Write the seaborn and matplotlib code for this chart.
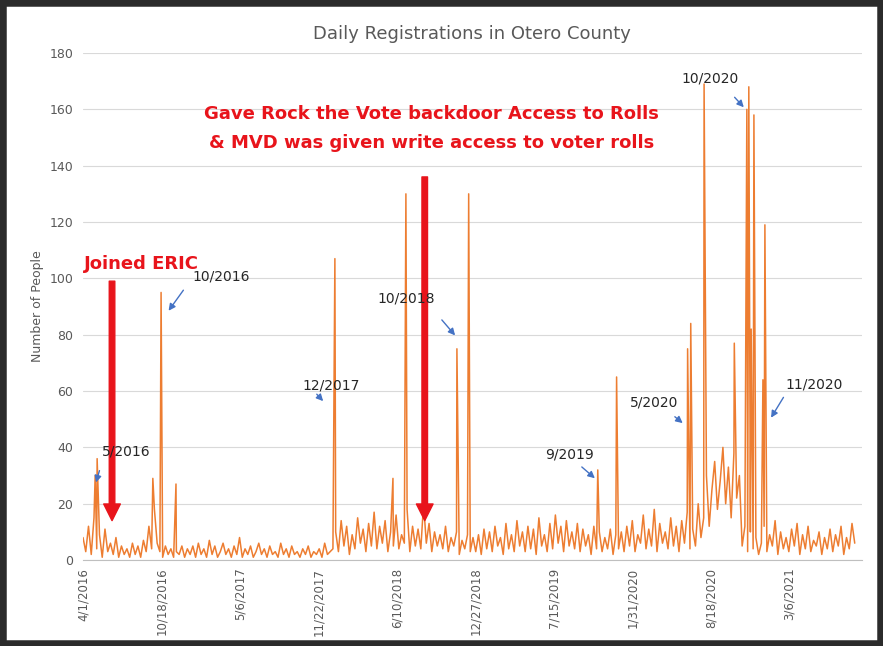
import pandas as pd
import numpy as np
import matplotlib
matplotlib.use("Agg")
import matplotlib.pyplot as plt
import seaborn as sns

# weekly readings of the noisy base level (start 2016-04-01, 7 day steps)
base_2016 = [8,3,12,2,15,4,9,1,11,3,6,2,8,1,5,2,4,1,6,2,5,1,7,3,12,4,18,6,3,1,5,2,4,1,3,2,5,1,4]
base_2017 = [2,5,1,6,2,4,1,7,2,5,1,3,6,2,4,1,5,2,8,1,4,2,5,1,3,6,2,4,1,5,2,3,1,6,2,4,1,5,2,3,1,4,2,5,1,3,2,4,1,6,2,3]
base_2018 = [4,10,3,14,5,12,2,9,4,15,6,11,3,13,5,17,4,12,6,14,3,10,5,16,4,9,6,18,3,12,5,11,4,20,6,13,3,10,5,9,4,12,3,8,5,10,2,7,4,9,3,8]
base_2019 = [3,9,2,11,4,10,3,12,5,8,2,13,4,9,3,14,5,10,3,12,4,11,2,15,5,9,3,13,4,16,6,12,3,14,5,10,4,13,3,11,5,9,2,12,4,10,3,8,4,11,2,9]
base_2020 = [4,10,3,12,5,14,3,9,6,16,4,11,5,18,3,13,6,10,4,15,5,12,3,14,6,17,4,11,5,20,8,
             15,30,12,25,35,18,28,40,20,33,15,38,22,30,
             5,12,3,10,4,8,2]
base_2021 = [6,12,3,9,5,14,2,10,4,8,3,11,5,13,2,9,4,12,3,7,5,10,2,8,4,11,3,9,5,12,2,8,4,13,6]

# single-day spikes (day offset from 4/1/2016, people)
spike_days = [31, 36, 178, 199, 237, 642, 790, 823, 953, 983, 1312, 1360,
              1541, 1549, 1583, 1660, 1692, 1697, 1703, 1710, 1733, 1738]
spike_vals = [30, 36, 29, 95, 27, 107, 29, 130, 75, 130, 32, 65,
              75, 84, 169, 77, 160, 168, 82, 158, 64, 119]

start = pd.Timestamp("2016-04-01")
base = base_2016 + base_2017 + base_2018 + base_2019 + base_2020 + base_2021
df = pd.concat([
    pd.DataFrame({"date": start + pd.to_timedelta(np.arange(len(base)) * 7, unit="D"), "people": base}),
    pd.DataFrame({"date": start + pd.to_timedelta(spike_days, unit="D"), "people": spike_vals}),
]).sort_values("date").drop_duplicates("date", keep="last")

sns.set_style("white")
fig = plt.figure(figsize=(8.83, 6.46), dpi=100)
fig.patches.append(plt.Rectangle((0, 0), 1, 1, transform=fig.transFigure, fill=False,
                                 edgecolor="#2b2b2b", linewidth=9))
ax = fig.add_axes([0.094, 0.133, 0.882, 0.785])
sns.lineplot(data=df, x="date", y="people", ax=ax, color="#ED7D31", linewidth=1.1,
             estimator=None, sort=True)

ticks = [start + pd.Timedelta(days=200 * i) for i in range(10)]
ax.set_xticks(ticks)
ax.set_xticklabels([f"{t.month}/{t.day}/{t.year}" for t in ticks], rotation=90, fontsize=8.5, color="#595959")
ax.set_xlim(start, start + pd.Timedelta(days=1985))
ax.set_ylim(0, 180)
ax.set_yticks(range(0, 181, 20))
ax.tick_params(axis="y", labelsize=9, colors="#595959")
ax.tick_params(axis="x", pad=2)
ax.grid(axis="y", color="#d9d9d9", linewidth=0.8)
for s in ["top", "right", "left"]:
    ax.spines[s].set_visible(False)
ax.spines["bottom"].set_color("#bfbfbf")
ax.set_xlabel("")
ax.set_ylabel("Number of People", fontsize=9, color="#595959")
ax.set_title("Daily Registrations in Otero County", fontsize=13, color="#595959", pad=10)

def d(n):
    return start + pd.Timedelta(days=n)

red = "#E8141B"
ax.text(d(3), 105, "Joined ERIC", color=red, fontsize=13, fontweight="bold", va="center")
ax.annotate("", xy=(d(74), 14), xytext=(d(74), 99),
            arrowprops=dict(color=red, width=4, headwidth=12, headlength=12))
ax.annotate("", xy=(d(871), 14), xytext=(d(871), 136),
            arrowprops=dict(color=red, width=4, headwidth=12, headlength=12))
ax.text(d(889), 158.5, "Gave Rock the Vote backdoor Access to Rolls", color=red,
        fontsize=13, fontweight="bold", ha="center", va="center")
ax.text(d(889), 148, "& MVD was given write access to voter rolls", color=red,
        fontsize=13, fontweight="bold", ha="center", va="center")

blue = "#4472C4"
labels = [("5/2016", 47, 38.7, 44, 32.7, 31, 26.6),
          ("10/2016", 280, 100.8, 260, 96.6, 214, 87.7),
          ("12/2017", 560, 61.8, 591, 59.6, 617, 55.7),
          ("10/2018", 750, 93, 910, 86, 953, 79),
          ("9/2019", 1177, 37.3, 1266, 33.7, 1310, 28.4),
          ("5/2020", 1395, 56, 1503, 51.5, 1534, 48),
          ("10/2020", 1525, 171, 1656, 165, 1689, 160),
          ("11/2020", 1790, 62.5, 1789, 58.6, 1750, 49.7)]
for txt, tx, ty, x0, y0, x1, y1 in labels:
    ax.text(d(tx), ty, txt, fontsize=10, va="center")
    ax.annotate("", xy=(d(x1), y1), xytext=(d(x0), y0),
                arrowprops=dict(arrowstyle="-|>", color=blue, lw=1))

fig.savefig("out.png", dpi=100)
